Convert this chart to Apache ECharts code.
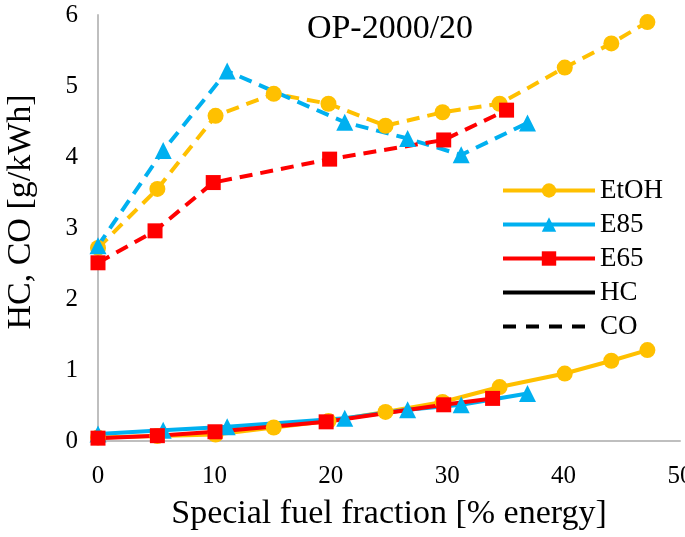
<!DOCTYPE html>
<html>
<head>
<meta charset="utf-8">
<script src="https://cdn.jsdelivr.net/npm/echarts@6/dist/echarts.min.js"></script>
<style>
  html, body { margin: 0; padding: 0; background: #fff; }
  #chart { width: 685px; height: 537px; }
</style>
</head>
<body>
<div id="chart"></div>
<script>
// x positions (% energy)
var etohX = [0, 5.1, 10.1, 15.1, 19.8, 24.7, 29.6, 34.5, 40.1, 44.1, 47.2];
var etohCO = [2.72, 3.55, 4.58, 4.89, 4.75, 4.44, 4.63, 4.75, 5.26, 5.6, 5.9];
var etohHC = [0.05, 0.07, 0.09, 0.19, 0.28, 0.41, 0.55, 0.76, 0.95, 1.13, 1.28];

var e85X = [0, 5.6, 11.1, 21.2, 26.6, 31.2, 36.9];
var e85CO = [2.75, 4.09, 5.21, 4.49, 4.26, 4.03, 4.48];
var e85HC = [0.1, 0.15, 0.2, 0.32, 0.44, 0.51, 0.67];

var e65CoX = [0, 4.9, 9.9, 19.9, 29.7, 35.1];
var e65CO = [2.51, 2.96, 3.64, 3.97, 4.24, 4.66];
var e65HcX = [0, 5.1, 10.05, 19.6, 29.7, 33.9];
var e65HC = [0.04, 0.075, 0.13, 0.27, 0.51, 0.6];

var font = "Liberation Serif";
var dash = [13, 8];

function pairs(xs, ys) {
  return xs.map(function (x, i) { return [x, ys[i]]; });
}

// one solid (HC) and one dashed (CO) line per fuel
function fuelSeries(name, color, symbol, size, hc, co) {
  var base = {
    name: name,
    type: "line",
    symbol: symbol,
    symbolSize: size,
    color: color,
    itemStyle: { color: color },
    animation: false
  };
  return [
    Object.assign({}, base, {
      data: hc,
      lineStyle: { color: color, width: 4 }
    }),
    Object.assign({}, base, {
      data: co,
      lineStyle: { color: color, width: 4, type: dash }
    })
  ];
}

var chart = echarts.init(document.getElementById("chart"));
var series = []
  .concat(fuelSeries("EtOH", "#FFC000", "circle", 16, pairs(etohX, etohHC), pairs(etohX, etohCO)))
  .concat(fuelSeries("E85", "#00B0F0", "triangle", 17, pairs(e85X, e85HC), pairs(e85X, e85CO)))
  .concat(fuelSeries("E65", "#FF0000", "rect", 15, pairs(e65HcX, e65HC), pairs(e65CoX, e65CO)));

// legend-only entries for the line styles
series.push({
  name: "HC", type: "line", data: [], symbol: "none", symbolSize: 0, color: "#000",
  lineStyle: { color: "#000", width: 4 }
});
series.push({
  name: "CO", type: "line", data: [], symbol: "none", symbolSize: 0, color: "#000",
  lineStyle: { color: "#000", width: 4, type: [13, 10] }
});

chart.setOption({
  backgroundColor: "#fff",
  animation: false,
  title: {
    text: "OP-2000/20",
    left: 385,
    textAlign: "center",
    top: 7,
    textStyle: { fontFamily: font, fontSize: 34, fontWeight: "normal", color: "#000" }
  },
  legend: {
    data: [
      "EtOH", "E85", "E65",
      { name: "HC", itemStyle: { opacity: 0 } },
      { name: "CO", itemStyle: { opacity: 0 } }
    ],
    orient: "vertical",
    left: 496,
    top: 172,
    itemWidth: 92,
    itemHeight: 18,
    itemGap: 7,
    lineStyle: { width: 4 },
    textStyle: { fontFamily: font, fontSize: 27, color: "#000" }
  },
  grid: { left: 98, right: 5, top: 15, bottom: 96, outerBoundsMode: "none", containLabel: false },
  xAxis: {
    type: "value",
    min: 0,
    max: 50,
    interval: 10,
    name: "Special fuel fraction [% energy]",
    nameLocation: "middle",
    nameGap: 56,
    nameTextStyle: { fontFamily: font, fontSize: 34, color: "#000" },
    axisLine: { lineStyle: { color: "#BFBFBF", width: 2 } },
    axisTick: { show: false },
    splitLine: { show: false },
    axisLabel: { fontFamily: font, fontSize: 25, color: "#000", margin: 23 }
  },
  yAxis: {
    type: "value",
    min: 0,
    max: 6,
    interval: 1,
    name: "HC, CO [g/kWh]",
    nameLocation: "middle",
    nameGap: 60,
    nameTextStyle: { fontFamily: font, fontSize: 34, color: "#000", padding: [0, 0, 0, 32] },
    axisLine: { show: true, lineStyle: { color: "#BFBFBF", width: 2 } },
    axisTick: { show: false },
    splitLine: { show: false },
    axisLabel: { fontFamily: font, fontSize: 25, color: "#000", margin: 20 }
  },
  series: series
});
</script>
</body>
</html>
